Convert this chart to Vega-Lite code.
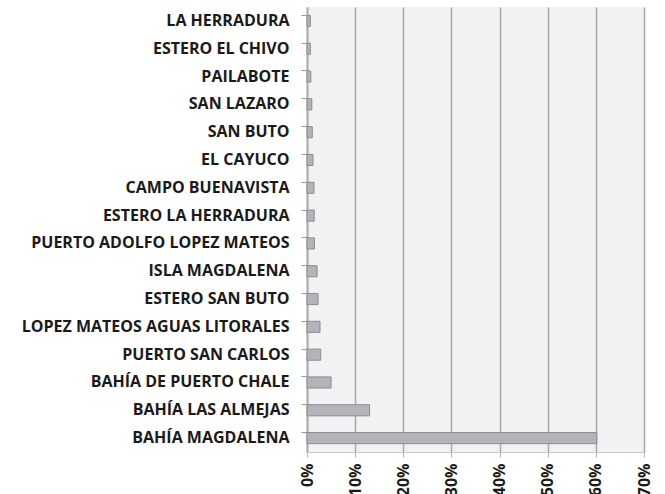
{
  "$schema": "https://vega.github.io/schema/vega-lite/v6.json",
  "width": 337,
  "height": 445,
  "autosize": "none",
  "padding": {"left": 307, "top": 7, "right": 21, "bottom": 42},
  "background": "white",
  "config": {
    "view": {"fill": "#f1f2f4", "stroke": null},
    "font": "Open Sans"
  },
  "data": {
    "values": [
      {"lugar": "LA HERRADURA", "pct": 0.007},
      {"lugar": "ESTERO EL CHIVO", "pct": 0.007},
      {"lugar": "PAILABOTE", "pct": 0.008},
      {"lugar": "SAN LAZARO", "pct": 0.010},
      {"lugar": "SAN BUTO", "pct": 0.011},
      {"lugar": "EL CAYUCO", "pct": 0.0125},
      {"lugar": "CAMPO BUENAVISTA", "pct": 0.0145},
      {"lugar": "ESTERO LA HERRADURA", "pct": 0.015},
      {"lugar": "PUERTO ADOLFO LOPEZ MATEOS", "pct": 0.0155},
      {"lugar": "ISLA MAGDALENA", "pct": 0.021},
      {"lugar": "ESTERO SAN BUTO", "pct": 0.023},
      {"lugar": "LOPEZ MATEOS AGUAS LITORALES", "pct": 0.027},
      {"lugar": "PUERTO SAN CARLOS", "pct": 0.0285},
      {"lugar": "BAHÍA DE PUERTO CHALE", "pct": 0.050},
      {"lugar": "BAHÍA LAS ALMEJAS", "pct": 0.130},
      {"lugar": "BAHÍA MAGDALENA", "pct": 0.602}
    ]
  },
  "mark": {"type": "bar", "color": "#b3b4b8", "stroke": "#8c8d90", "strokeWidth": 1},
  "encoding": {
    "y": {
      "field": "lugar",
      "type": "nominal",
      "sort": null,
      "scale": {"paddingInner": 0.6, "paddingOuter": 0.3},
      "axis": {
        "title": null,
        "labelFont": "Open Sans",
        "labelFontWeight": "bold",
        "labelFontSize": 16,
        "labelLimit": 400,
        "labelColor": "#1a1a1a",
        "labelPadding": 12,
        "domainColor": "#b0b0b0",
        "domainWidth": 2,
        "tickColor": "#9a9a9a",
        "tickSize": 6,
        "bandPosition": 0,
        "ticks": true,
        "grid": false
      }
    },
    "x": {
      "field": "pct",
      "type": "quantitative",
      "scale": {"domain": [0, 0.7], "nice": false},
      "axis": {
        "title": null,
        "format": ".0%",
        "values": [0, 0.1, 0.2, 0.3, 0.4, 0.5, 0.6, 0.7],
        "labelAngle": 270,
        "labelAlign": "right",
        "labelBaseline": "middle",
        "labelFont": "Open Sans",
        "labelFontWeight": "bold",
        "labelFontSize": 16,
        "labelColor": "#1a1a1a",
        "labelPadding": 6,
        "grid": true,
        "gridColor": "#a8a8a8",
        "gridWidth": 1.5,
        "domainColor": "#c8c8c8",
        "tickColor": "#b0b0b0",
        "tickSize": 5
      }
    }
  }
}
